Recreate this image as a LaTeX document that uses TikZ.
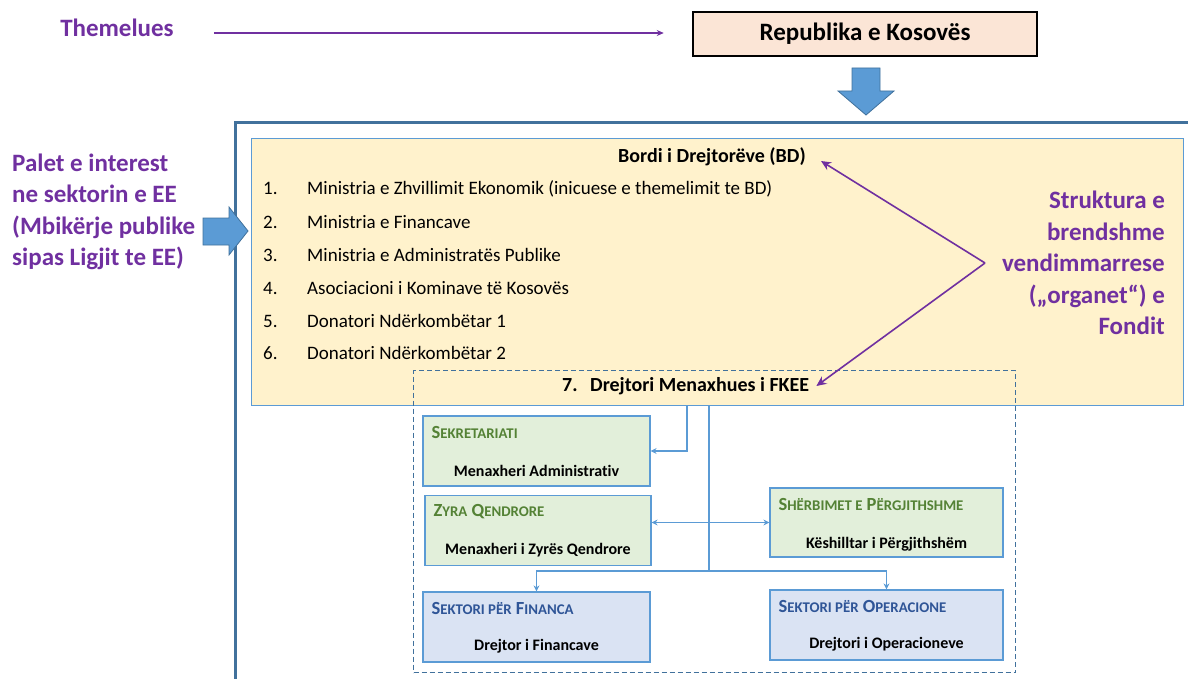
\documentclass[tikz,border=0pt]{standalone}
\usepackage{fontspec}
\setmainfont{Carlito}[Ligatures=NoCommon]
\usetikzlibrary{arrows.meta,positioning}
\definecolor{purp}{HTML}{7030A0}
\definecolor{frameblue}{HTML}{41719C}
\definecolor{midblue}{HTML}{5B9BD5}
\definecolor{boardfill}{HTML}{FFF2CC}
\definecolor{peach}{HTML}{FBE5D6}
\definecolor{greenfill}{HTML}{E2EFDA}
\definecolor{bluefill}{HTML}{DAE3F3}
\definecolor{greentxt}{HTML}{548235}
\definecolor{bluetxt}{HTML}{2F5597}
\newcommand\capsc[2]{#1{\fontsize{14.8}{16}\selectfont #2}}

\begin{document}
\begin{tikzpicture}[x=1pt,y=-1pt,>=Stealth,
 purptext/.style={font=\fontsize{25}{31.5}\selectfont\bfseries,text=purp,inner sep=0pt},
 parrow/.style={draw=purp,line width=1.6pt,-{Stealth[length=10pt,width=9pt]}},
 board/.style={draw=midblue,fill=boardfill,line width=1pt,anchor=north west},
 item/.style={anchor=west,font=\fontsize{19}{22}\selectfont,inner sep=0pt},
 head/.style={font=\fontsize{20}{24}\selectfont\bfseries,inner sep=0pt},
 orgbox/.style={draw=midblue,line width=1.2pt,minimum height=70pt},
 gbox/.style={orgbox,fill=greenfill},
 bbox/.style={orgbox,fill=bluefill},
 gtitle/.style={anchor=west,inner sep=0pt,font=\fontsize{18.5}{20}\selectfont\bfseries,text=greentxt},
 btitle/.style={gtitle,text=bluetxt},
 sub/.style={inner sep=0pt,font=\fontsize{16}{19}\selectfont\bfseries},
 conn/.style={draw=midblue,line width=1.3pt,-{Stealth[length=6pt,width=6pt]}},
 blockarrow/.style={fill=midblue,draw=frameblue,line width=0.8pt}]
\useasboundingbox (0,0) rectangle (1188,679);

% founder
\node[purptext] (them) at (117,28) {Themelues};
\node[draw=black,line width=2.5pt,fill=peach,minimum width=344pt,minimum height=44pt,
 font=\fontsize{25}{30}\selectfont\bfseries] (rep) at (865,34) {Republika e Kosovës};
\draw[draw=purp,line width=1.5pt,-{Stealth[length=7pt,width=6pt]}]
 ([xshift=40pt,yshift=-5pt]them.east) -- ([xshift=-28pt,yshift=1pt]rep.west);
\draw[blockarrow] (852,68) -- (880,68) -- (880,91) -- (894,91) -- (866,115)
 -- (838,91) -- (852,91) -- cycle;

% fund frame
\draw[frameblue,line width=3pt] (235,679) -- (235,123) -- (1188,123);

% stakeholders
\node[purptext,anchor=west,align=left] (palet) at (12,212)
 {Palet e interest\\ne sektorin e EE\\(Mbikërje publike\\sipas Ligjit te EE)};
\draw[blockarrow] (203,218) -- (229,218) -- (229,207) -- (248,231) -- (229,255)
 -- (229,245) -- (203,245) -- cycle;

% board of directors
\node[board,minimum width=932pt,minimum height=267pt] (board) at (251,138) {};
\node[draw=frameblue,dash pattern=on 5pt off 3pt,line width=1.2pt,anchor=north west,
 minimum width=602pt,minimum height=302pt] (mgmt) at (413,370) {};
\node[head] (bd) at (712,157) {Bordi i Drejtorëve (BD)};
\node[item] (it1) at (263,189) {\makebox[44pt][l]{1.}Ministria e Zhvillimit Ekonomik (inicuese e themelimit te BD)};
\node[item] (it2) at (263,222) {\makebox[44pt][l]{2.}Ministria e Financave};
\node[item] (it3) at (263,255) {\makebox[44pt][l]{3.}Ministria e Administratës Publike};
\node[item] (it4) at (263,288) {\makebox[44pt][l]{4.}Asociacioni i Kominave të Kosovës};
\node[item] (it5) at (263,321) {\makebox[44pt][l]{5.}Donatori Ndërkombëtar 1};
\node[item] (it6) at (263,353) {\makebox[44pt][l]{6.}Donatori Ndërkombëtar 2};
\node[head,anchor=west] (fkee) at (562,386) {\makebox[28pt][l]{7.}Drejtori Menaxhues i FKEE};

% internal bodies
\node[purptext,anchor=east,align=right] (struk) at (1165,263)
 {Struktura e\\brendshme\\vendimmarrese\\(„organet“) e\\Fondit};
\coordinate (vtx) at (985,263);
\draw[parrow] (vtx) -- ([xshift=15pt,yshift=-4pt]bd.east);
\draw[parrow] (vtx) -- ([xshift=7pt]fkee.east);

% units
\node[gbox,minimum width=227pt] (sek) at (536.5,451) {};
\node[gtitle] at ([shift={(9pt,-17pt)}]sek.north west) {\capsc{S}{EKRETARIATI}};
\node[sub] at ([yshift=16pt]sek.south) {Menaxheri Administrativ};
\node[gbox,minimum width=226pt] (zyra) at (538,530.5) {};
\node[gtitle] at ([shift={(9pt,-17pt)}]zyra.north west) {\capsc{Z}{YRA} \capsc{Q}{ENDRORE}};
\node[sub] at ([yshift=16pt]zyra.south) {Menaxheri i Zyrës Qendrore};
\node[gbox,minimum width=233pt,minimum height=69pt] (sher) at (886.5,522.5) {};
\node[gtitle] at ([shift={(9pt,-17pt)}]sher.north west) {\capsc{S}{HËRBIMET E} \capsc{P}{ËRGJITHSHME}};
\node[sub] at ([yshift=13pt]sher.south) {Këshilltar i Përgjithshëm};
\node[bbox,minimum width=227pt] (fin) at (536.5,627) {};
\node[btitle] at ([shift={(9pt,-17pt)}]fin.north west) {\capsc{S}{EKTORI PËR} \capsc{F}{INANCA}};
\node[sub] at ([yshift=16pt]fin.south) {Drejtor i Financave};
\node[bbox,minimum width=233pt] (ops) at (886.5,625) {};
\node[btitle] at ([shift={(9pt,-17pt)}]ops.north west) {\capsc{S}{EKTORI PËR} \capsc{O}{PERACIONE}};
\node[sub] at ([yshift=16pt]ops.south) {Drejtori i Operacioneve};

% reporting lines
\coordinate (d1) at (687,405);
\coordinate (d2) at (709,405);
\coordinate (hub) at (709,571);
\draw[conn] (d1) |- (sek.east);
\draw[draw=midblue,line width=1.3pt] (d2) -- (hub);
\draw[conn] (hub) -| (fin.north);
\draw[conn] (hub) -| (ops.north);
\draw[conn,{Stealth[length=6pt,width=6pt]}-{Stealth[length=6pt,width=6pt]}]
 (zyra.east |- sher.west) -- (sher.west);
\end{tikzpicture}
\end{document}
